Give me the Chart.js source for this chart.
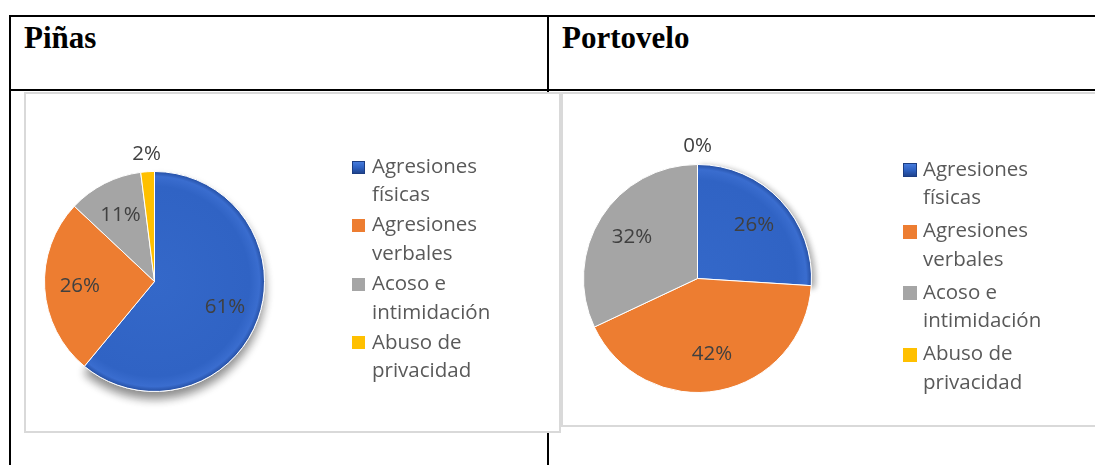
<!DOCTYPE html>
<html><head><meta charset="utf-8">
<script src="https://cdn.jsdelivr.net/npm/chart.js@4.4.1/dist/chart.umd.min.js"></script>
<style>
html,body{margin:0;padding:0;background:#fff;width:1095px;height:465px;overflow:hidden;position:relative}
.line{position:absolute;background:#000}
.title{position:absolute;font-family:'Liberation Serif','Times New Roman',serif;font-weight:bold;font-size:31px;color:#000;line-height:1;white-space:nowrap}
.box{position:absolute;background:#fff;border:2px solid #d9d9d9;box-sizing:border-box}
canvas{position:absolute}
</style></head><body>
<div class="line" style="left:9px;top:15px;width:1086px;height:2px"></div>
<div class="line" style="left:9px;top:89px;width:1086px;height:2px"></div>
<div class="line" style="left:9px;top:15px;width:2px;height:450px"></div>
<div class="line" style="left:547px;top:15px;width:2px;height:450px"></div>
<div id="t0" class="title" style="left:24px;top:22px"></div>
<div id="t1" class="title" style="left:562px;top:22px"></div>
<div class="box" style="left:24px;top:92px;width:537px;height:341px"></div>
<div class="box" style="left:561px;top:92px;width:560px;height:335px"></div>
<canvas id="c0" width="537" height="341" style="left:24px;top:92px"></canvas>
<canvas id="c1" width="534" height="335" style="left:561px;top:92px"></canvas>
<script>
// ---- data ----
const titles = ['Piñas', 'Portovelo'];
const categories = ['Agresiones físicas', 'Agresiones verbales', 'Acoso e intimidación', 'Abuso de privacidad'];
const pinasValues = [61, 26, 11, 2];
const portoveloValues = [26, 42, 32, 0];
const sliceColors = ['#3063c4', '#ed7d31', '#a5a5a5', '#ffc000'];

document.getElementById('t0').textContent = titles[0];
document.getElementById('t1').textContent = titles[1];

function sliceColor(c) {
  const base = sliceColors[c.dataIndex];
  if (c.dataIndex !== 0) return base;
  const a = c.chart.chartArea;
  if (!a) return base;
  const cx = (a.left + a.right) / 2, cy = (a.top + a.bottom) / 2;
  const r = Math.min(a.right - a.left, a.bottom - a.top) / 2;
  const g = c.chart.ctx.createRadialGradient(cx, cy, 0, cx, cy, r);
  g.addColorStop(0, '#3468c9');
  g.addColorStop(0.86, '#3063c4');
  g.addColorStop(0.95, '#3a6dcf');
  g.addColorStop(1, '#234c9f');
  return g;
}

const shadowPlugin = {
  id: 'shadow',
  beforeDatasetDraw(chart, args, o) {
    const arc = args.meta.data[0];
    if (!arc) return;
    const ctx = chart.ctx;
    ctx.save();
    ctx.shadowColor = o.color;
    ctx.shadowBlur = o.blur;
    ctx.shadowOffsetX = o.x;
    ctx.shadowOffsetY = o.y;
    arc.draw(ctx);
    ctx.restore();
  }
};

const pctLabels = {
  id: 'pctLabels',
  afterDatasetsDraw(chart, args, o) {
    const ctx = chart.ctx;
    const meta = chart.getDatasetMeta(0);
    const data = chart.data.datasets[0].data;
    ctx.save();
    ctx.font = o.font;
    ctx.fillStyle = o.color;
    ctx.textAlign = 'center';
    ctx.textBaseline = 'middle';
    meta.data.forEach((arc, i) => {
      const p = arc.getProps(['x', 'y', 'startAngle', 'endAngle', 'outerRadius'], true);
      const mid = (p.startAngle + p.endAngle) / 2;
      const f = data[i] < 5 ? o.outside : o.inside;
      ctx.fillText(data[i] + '%', p.x + Math.cos(mid) * p.outerRadius * f, p.y + Math.sin(mid) * p.outerRadius * f);
    });
    ctx.restore();
  }
};

function wrap(ctx, text, maxW) {
  const words = text.split(' ');
  const lines = [];
  let cur = '';
  words.forEach(w => {
    const t = cur ? cur + ' ' + w : w;
    if (cur && ctx.measureText(t).width > maxW) { lines.push(cur); cur = w; }
    else cur = t;
  });
  if (cur) lines.push(cur);
  return lines;
}

const sideLegend = {
  id: 'sideLegend',
  afterDraw(chart, args, o) {
    const ctx = chart.ctx;
    ctx.save();
    ctx.font = o.font;
    ctx.textBaseline = 'middle';
    ctx.textAlign = 'left';
    let y = o.top;
    chart.data.labels.forEach((lab, i) => {
      const lines = wrap(ctx, lab, o.maxWidth);
      const bx = o.boxX, by = Math.round(y - o.box / 2);
      if (i === 0) {
        const g = ctx.createLinearGradient(bx, by, bx, by + o.box);
        g.addColorStop(0, '#4a7fe0'); g.addColorStop(0.5, '#2f62c2'); g.addColorStop(1, '#1d3f86');
        ctx.fillStyle = g;
        ctx.fillRect(bx, by, o.box, o.box);
        ctx.strokeStyle = '#1c3d82'; ctx.lineWidth = 1;
        ctx.strokeRect(bx + 0.5, by + 0.5, o.box - 1, o.box - 1);
      } else {
        ctx.fillStyle = sliceColors[i];
        ctx.fillRect(bx, by, o.box, o.box);
      }
      ctx.fillStyle = o.color;
      lines.forEach((ln, k) => ctx.fillText(ln, o.textX, y + k * o.lineH));
      y += o.pitch;
    });
    ctx.restore();
  }
};

function makeChart(id, values, cfg) {
  return new Chart(document.getElementById(id), {
    type: 'pie',
    data: {
      labels: categories,
      datasets: [{ data: values, backgroundColor: sliceColor, borderColor: '#ffffff', borderWidth: 1 }]
    },
    options: {
      responsive: false,
      animation: false,
      events: [],
      layout: { padding: cfg.padding },
      plugins: {
        legend: { display: false },
        tooltip: { enabled: false },
        shadow: cfg.shadow,
        pctLabels: { font: '20.5px "Open Sans"', color: '#404040', inside: 0.68, outside: 1.16 },
        sideLegend: cfg.legend
      }
    },
    plugins: [shadowPlugin, pctLabels, sideLegend]
  });
}

makeChart('c0', pinasValues, {
  padding: { left: 20, top: 79, right: 296, bottom: 41 },
  shadow: { color: 'rgba(0,0,0,0.45)', blur: 10, x: 0, y: 7 },
  legend: { font: '20.5px "Open Sans"', color: '#595959', top: 75, lineH: 28.5, pitch: 58.6, boxX: 328, box: 13, textX: 348, maxWidth: 140 }
});
makeChart('c1', portoveloValues, {
  padding: { left: 22, top: 72, right: 283, bottom: 34 },
  shadow: { color: 'rgba(0,0,0,0.35)', blur: 6, x: 3, y: 2 },
  legend: { font: '20.5px "Open Sans"', color: '#595959', top: 78, lineH: 28.5, pitch: 61.5, boxX: 342, box: 14, textX: 362, maxWidth: 140 }
});
</script>
</body></html>
